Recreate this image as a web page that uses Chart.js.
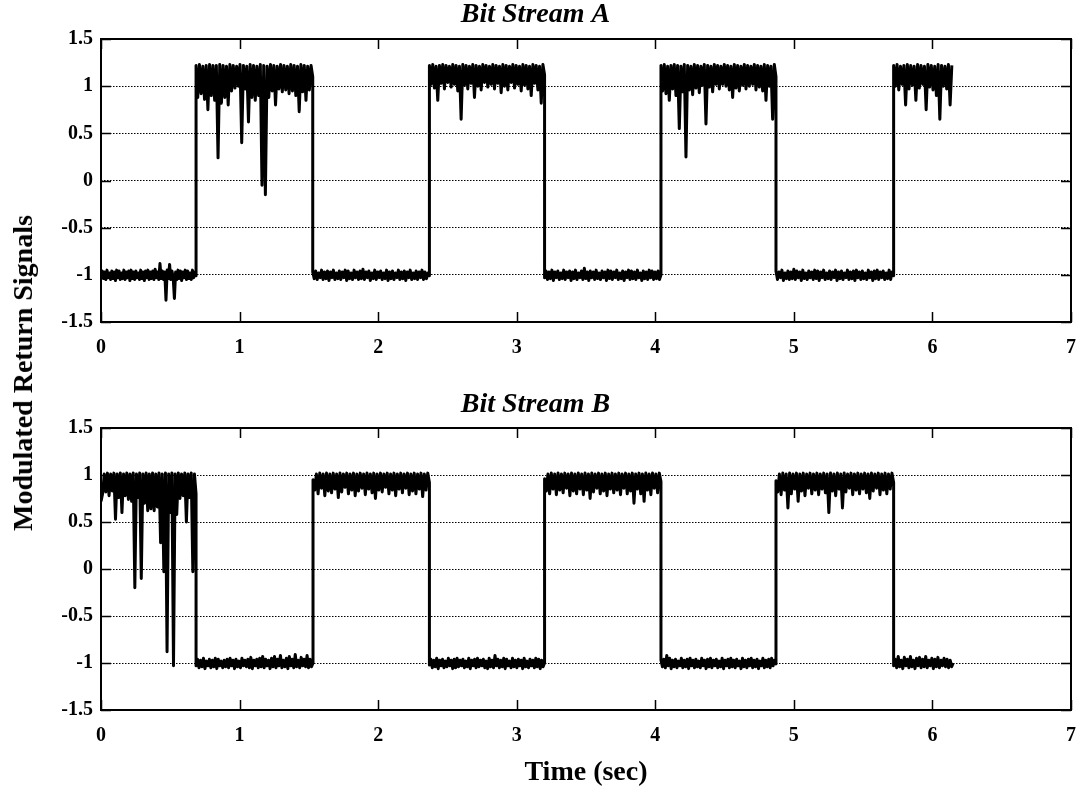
<!DOCTYPE html>
<html><head><meta charset="utf-8">
<script src="https://cdn.jsdelivr.net/npm/chart.js@4.4.1/dist/chart.umd.min.js"></script>
<style>
html,body{margin:0;padding:0;background:#fff;}
#wrap{position:relative;width:1080px;height:788px;overflow:hidden;background:#fff;}
canvas{position:absolute;left:0;}
#c1{top:0;}
#c2{top:390px;}
#ylab{position:absolute;left:23px;top:373px;transform:translate(-50%,-50%) rotate(-90deg);font:bold 28px 'Liberation Serif',serif;white-space:nowrap;color:#000;}
</style></head>
<body>
<div id="wrap">
<canvas id="c1" width="1080" height="390"></canvas>
<canvas id="c2" width="1080" height="398"></canvas>
<div id="ylab">Modulated Return Signals</div>
</div>
<script>
// ---------- axis ticks ----------
const xTicks = [0, 1, 2, 3, 4, 5, 6, 7];
const xTickLabels = ['0', '1', '2', '3', '4', '5', '6', '7'];
const yTicks = [-1.5, -1, -0.5, 0, 0.5, 1, 1.5];
const yTickLabels = ['-1.5', '-1', '-0.5', '0', '0.5', '1', '1.5'];

// ---------- Bit Stream A: segment boundary times (s) ----------
const edgesA = [0, 0.686, 1.528, 2.370, 3.201, 4.041, 4.871, 5.720, 6.140];
const lowA1 = [
-1.01,-0.96,-1.04,-0.97,-1.05,-0.95,-1.03,-0.98,-1.05,-0.96,
-1.04,-0.97,-1.06,-0.95,-1.03,-0.96,-1.05,-0.98,-1.04,-0.95,
-1.05,-0.97,-1.03,-0.96,-1.06,-0.95,-1.04,-0.97,-1.05,-0.96,
-1.03,-0.98,-1.05,-0.95,-1.04,-0.97,-1.06,-0.96,-1.03,-0.95,
-1.05,-0.97,-1.04,-0.96,-1.05,-0.94,-1.03,-0.97,-1.05,-0.88,
-1.04,-0.96,-1.05,-0.97,-1.27,-0.95,-1.04,-0.89,-1.05,-0.96,
-1.03,-1.25,-0.97,-1.05,-0.95,-1.04,-0.96,-1.06,-0.97,-1.03,
-0.95,-1.05,-0.96,-1.04,-0.98,-1.05,-0.95,-1.03,-0.97,-1.01];
const highA1 = [
1.22,0.88,1.23,0.92,1.21,0.86,1.22,0.75,1.23,0.90,
1.22,0.85,1.22,0.24,1.23,0.82,1.22,0.88,1.21,0.80,
1.23,0.95,1.22,0.98,1.21,1.00,1.23,0.40,1.22,0.97,
1.21,0.62,1.23,0.88,1.22,0.85,1.21,0.90,1.23,-0.05,
1.22,-0.15,1.21,0.88,1.23,0.95,1.22,0.80,1.21,0.97,
1.23,0.94,1.22,0.96,1.21,0.92,1.23,0.95,1.22,0.90,
1.21,0.73,1.23,0.94,1.22,0.85,1.21,0.96,1.22,1.10];
const lowA2 = [
-0.97,-1.04,-0.96,-1.05,-0.98,-1.03,-0.95,-1.05,-0.97,-1.04,
-0.96,-1.06,-0.97,-1.03,-0.95,-1.05,-0.98,-1.04,-0.96,-1.05,
-0.97,-1.03,-0.95,-1.06,-0.96,-1.04,-0.98,-1.05,-0.95,-1.03,
-0.97,-1.05,-0.96,-1.04,-0.94,-1.05,-0.97,-1.03,-0.96,-1.06,
-0.98,-1.04,-0.95,-1.05,-0.97,-1.03,-0.96,-1.05,-0.98,-1.04,
-0.95,-1.06,-0.97,-1.04,-0.96,-1.05,-0.98,-1.03,-0.95,-1.05,
-0.97,-1.04,-0.96,-1.06,-0.97,-1.03,-0.95,-1.05,-0.98,-1.04,
-0.96,-1.05,-0.97,-1.03,-0.95,-1.05,-0.97,-1.04,-0.98,-1.01];
const highA2 = [
1.22,1.02,1.23,0.98,1.21,0.85,1.22,1.03,1.23,0.97,
1.22,1.04,1.21,0.99,1.23,1.02,1.22,0.95,1.21,0.65,
1.23,1.01,1.22,0.97,1.21,1.03,1.23,0.88,1.22,1.00,
1.21,0.96,1.23,1.04,1.22,0.99,1.21,1.02,1.23,0.97,
1.22,1.03,1.21,0.93,1.23,1.00,1.22,0.96,1.21,1.04,
1.23,0.98,1.22,1.02,1.21,0.95,1.23,1.01,1.22,0.97,
1.21,0.90,1.23,1.03,1.22,0.96,1.21,0.82,1.23,1.12];
const lowA3 = [
-1.03,-0.96,-1.05,-0.97,-1.04,-0.95,-1.06,-0.97,-1.03,-0.96,
-1.05,-0.98,-1.04,-0.95,-1.05,-0.97,-1.03,-0.96,-1.06,-0.97,
-1.04,-0.95,-1.05,-0.98,-1.03,-0.96,-1.05,-0.93,-1.04,-0.97,
-1.06,-0.96,-1.03,-0.97,-1.05,-0.95,-1.04,-0.98,-1.05,-0.96,
-1.03,-0.97,-1.06,-0.95,-1.04,-0.96,-1.05,-0.97,-1.03,-0.95,
-1.05,-0.98,-1.04,-0.96,-1.06,-0.97,-1.03,-0.95,-1.05,-0.96,
-1.04,-0.97,-1.05,-0.95,-1.03,-0.98,-1.06,-0.96,-1.04,-0.97,
-1.05,-0.95,-1.03,-0.96,-1.05,-0.97,-1.04,-0.96,-1.05,-1.00];
const highA3 = [
1.22,0.95,1.23,0.92,1.21,0.85,1.22,0.97,1.23,0.90,
1.22,0.55,1.21,0.94,1.23,0.25,1.22,0.96,1.21,0.91,
1.23,0.98,1.22,0.93,1.21,1.01,1.23,0.60,1.22,0.99,
1.21,0.94,1.23,1.02,1.22,0.97,1.21,1.02,1.23,1.00,
1.22,0.96,1.21,0.88,1.23,0.98,1.22,0.95,1.21,1.01,
1.23,0.97,1.22,1.00,1.21,1.02,1.23,0.96,1.22,0.99,
1.21,0.95,1.23,0.85,1.22,1.00,1.21,0.65,1.23,1.10];
const lowA4 = [
-0.96,-1.05,-0.97,-1.03,-0.95,-1.06,-0.98,-1.04,-0.96,-1.05,
-0.97,-1.04,-0.94,-1.05,-0.96,-1.03,-0.97,-1.06,-0.95,-1.04,
-0.98,-1.05,-0.96,-1.03,-0.97,-1.05,-0.95,-1.04,-0.96,-1.06,
-0.97,-1.03,-0.95,-1.05,-0.98,-1.04,-0.96,-1.05,-0.97,-1.03,
-0.95,-1.06,-0.97,-1.04,-0.96,-1.05,-0.98,-1.03,-0.95,-1.05,
-0.97,-1.04,-0.96,-1.06,-0.95,-1.03,-0.97,-1.05,-0.96,-1.04,
-0.98,-1.05,-0.95,-1.03,-0.97,-1.06,-0.96,-1.04,-0.95,-1.05,
-0.97,-1.03,-0.96,-1.05,-0.98,-1.04,-0.95,-1.05,-0.97,-1.01];
const highA4 = [
1.22,1.00,1.23,0.96,1.21,1.02,1.22,0.80,1.23,0.97,
1.22,1.01,1.21,0.85,1.23,0.98,1.22,1.02,1.21,0.75,
1.23,0.99,1.22,0.96,1.21,0.90,1.23,0.65,1.22,1.00,
1.21,0.97,1.23,0.80,1.22];

// ---------- Bit Stream B: segment boundary times (s) ----------
const edgesB = [0, 0.686, 1.530, 2.370, 3.201, 4.041, 4.871, 5.720, 6.150];
const highB1 = [
0.72,0.80,1.01,0.82,1.02,0.78,1.01,0.83,1.02,0.53,
1.01,0.76,1.02,0.60,1.01,0.78,1.02,0.74,1.01,0.72,
1.02,-0.20,1.01,0.76,1.02,-0.10,1.01,0.70,1.02,0.62,
1.01,0.64,1.02,0.62,1.01,0.66,1.02,0.28,1.01,-0.03,
1.02,-0.88,1.01,0.60,1.02,-1.03,1.01,0.58,1.02,0.75,
1.01,0.78,1.02,0.50,1.01,0.76,1.02,-0.03,1.01,0.80];
const lowB1 = [
-1.03,-0.96,-1.05,-0.97,-1.04,-0.95,-1.06,-0.98,-1.03,-0.96,
-1.05,-0.97,-1.04,-0.95,-1.06,-0.96,-1.03,-0.98,-1.05,-0.97,
-1.04,-0.96,-1.05,-0.95,-1.03,-0.97,-1.06,-0.96,-1.04,-0.98,
-1.05,-0.95,-1.03,-0.97,-1.04,-0.96,-1.05,-0.94,-1.06,-0.97,
-1.03,-0.96,-1.05,-0.95,-1.04,-0.93,-1.05,-0.96,-1.03,-0.97,
-1.06,-0.95,-1.04,-0.93,-1.05,-0.96,-1.03,-0.92,-1.05,-0.97,
-1.04,-0.95,-1.06,-0.93,-1.03,-0.96,-1.05,-0.91,-1.04,-0.97,
-1.05,-0.94,-1.03,-0.96,-1.04,-0.92,-1.05,-0.96,-1.04,-1.00];
const highB2 = [
0.95,0.84,1.01,0.80,1.02,0.86,1.01,0.78,1.02,0.83,
1.01,0.81,1.02,0.85,1.01,0.76,1.02,0.82,1.01,0.87,
1.02,0.80,1.01,0.84,1.02,0.78,1.01,0.83,1.02,0.86,
1.01,0.79,1.02,0.85,1.01,0.81,1.02,0.75,1.01,0.84,
1.02,0.82,1.01,0.87,1.02,0.80,1.01,0.84,1.02,0.78,
1.01,0.85,1.02,0.81,1.01,0.86,1.02,0.79,1.01,0.83,
1.02,0.80,1.01,0.85,1.02,0.77,1.01,0.84,1.02,0.92];
const lowB2 = [
-1.02,-0.96,-1.05,-0.97,-1.04,-0.95,-1.06,-0.97,-1.03,-0.96,
-1.05,-0.98,-1.04,-0.95,-1.03,-0.97,-1.06,-0.96,-1.05,-0.95,
-1.04,-0.97,-1.03,-0.96,-1.05,-0.98,-1.04,-0.95,-1.06,-0.97,
-1.03,-0.96,-1.05,-0.95,-1.04,-0.97,-1.03,-0.96,-1.05,-0.98,
-1.06,-0.95,-1.04,-0.97,-1.05,-0.92,-1.03,-0.96,-1.05,-0.97,
-1.04,-0.95,-1.06,-0.96,-1.03,-0.98,-1.05,-0.95,-1.04,-0.97,
-1.05,-0.96,-1.03,-0.97,-1.06,-0.95,-1.04,-0.98,-1.05,-0.96,
-1.03,-0.97,-1.05,-0.95,-1.04,-0.96,-1.06,-0.97,-1.04,-1.00];
const highB3 = [
0.96,0.83,1.01,0.80,1.02,0.85,1.01,0.79,1.02,0.84,
1.01,0.81,1.02,0.86,1.01,0.78,1.02,0.83,1.01,0.80,
1.02,0.85,1.01,0.79,1.02,0.84,1.01,0.75,1.02,0.82,
1.01,0.86,1.02,0.80,1.01,0.83,1.02,0.78,1.01,0.85,
1.02,0.81,1.01,0.84,1.02,0.79,1.01,0.86,1.02,0.80,
1.01,0.83,1.02,0.70,1.01,0.85,1.02,0.80,1.01,0.72,
1.02,0.84,1.01,0.79,1.02,0.86,1.01,0.81,1.02,0.93];
const lowB3 = [
-0.97,-1.04,-0.96,-1.05,-0.92,-1.03,-0.95,-1.06,-0.97,-1.04,
-0.96,-1.05,-0.98,-1.03,-0.95,-1.05,-0.97,-1.04,-0.96,-1.06,
-0.95,-1.03,-0.97,-1.05,-0.96,-1.04,-0.98,-1.05,-0.95,-1.03,
-0.97,-1.06,-0.96,-1.04,-0.95,-1.05,-0.97,-1.03,-0.96,-1.05,
-0.98,-1.04,-0.95,-1.06,-0.97,-1.03,-0.96,-1.05,-0.95,-1.04,
-0.97,-1.05,-0.96,-1.03,-0.98,-1.06,-0.95,-1.04,-0.97,-1.05,
-0.96,-1.03,-0.95,-1.05,-0.97,-1.04,-0.96,-1.06,-0.98,-1.03,
-0.95,-1.05,-0.97,-1.04,-0.96,-1.05,-0.95,-1.03,-0.97,-1.01];
const highB4 = [
0.94,0.82,1.01,0.79,1.02,0.84,1.01,0.65,1.02,0.80,
1.01,0.85,1.02,0.72,1.01,0.83,1.02,0.78,1.01,0.86,
1.02,0.80,1.01,0.84,1.02,0.79,1.01,0.85,1.02,0.81,
1.01,0.60,1.02,0.83,1.01,0.78,1.02,0.85,1.01,0.65,
1.02,0.82,1.01,0.86,1.02,0.79,1.01,0.84,1.02,0.80,
1.01,0.85,1.02,0.81,1.01,0.75,1.02,0.83,1.01,0.86,
1.02,0.79,1.01,0.84,1.02,0.80,1.01,0.85,1.02,0.92];
const lowB4 = [
-1.03,-0.96,-1.05,-0.93,-1.04,-0.97,-1.06,-0.94,-1.03,-0.96,
-1.05,-0.93,-1.04,-0.97,-1.06,-0.95,-1.03,-0.94,-1.05,-0.96,
-1.04,-0.93,-1.05,-0.97,-1.03,-0.95,-1.06,-0.96,-1.04,-0.94,
-1.05,-0.97,-1.03,-0.95,-1.04,-0.96,-1.05,-0.97,-1.04,-1.00];

const segmentsA = [lowA1, highA1, lowA2, highA2, lowA3, highA3, lowA4, highA4];
const segmentsB = [highB1, lowB1, highB2, lowB2, highB3, lowB3, highB4, lowB4];

// samples of each segment are spread evenly between its boundary times
function buildPoints(edges, segments) {
  const pts = [];
  segments.forEach((vals, i) => {
    const t0 = edges[i], t1 = edges[i + 1], n = vals.length;
    vals.forEach((v, k) => pts.push({ x: t0 + (t1 - t0) * k / (n - 1), y: v }));
  });
  return pts;
}

const FONT = "'Liberation Serif', serif";

const framePlugin = {
  id: 'frame',
  afterDraw(chart) {
    const { ctx, chartArea: a, scales: { x, y } } = chart;
    ctx.save();
    ctx.strokeStyle = '#000';
    ctx.lineWidth = 1.5;
    ctx.beginPath();
    xTicks.forEach(v => {
      const px = Math.round(x.getPixelForValue(v)) + 0.5;
      ctx.moveTo(px, a.bottom); ctx.lineTo(px, a.bottom - 10);
      ctx.moveTo(px, a.top); ctx.lineTo(px, a.top + 10);
    });
    yTicks.forEach(v => {
      const py = Math.round(y.getPixelForValue(v)) + 0.5;
      ctx.moveTo(a.left, py); ctx.lineTo(a.left + 10, py);
      ctx.moveTo(a.right, py); ctx.lineTo(a.right - 10, py);
    });
    ctx.stroke();
    ctx.lineWidth = 2;
    ctx.strokeRect(a.left, a.top, a.right - a.left, a.bottom - a.top);
    ctx.restore();
  }
};

function makeChart(id, titleText, points, titleBottomPad, xAxisHeight, xTitle) {
  return new Chart(document.getElementById(id), {
    type: 'line',
    data: {
      datasets: [{
        data: points,
        borderColor: '#000',
        borderWidth: 3,
        borderJoinStyle: 'round',
        pointRadius: 0,
        tension: 0,
        fill: false
      }]
    },
    options: {
      responsive: false,
      animation: false,
      devicePixelRatio: 1,
      layout: { padding: { left: 0, right: 9, top: 0, bottom: 0 } },
      plugins: {
        legend: { display: false },
        tooltip: { enabled: false },
        title: {
          display: true,
          text: titleText,
          color: '#000',
          font: { family: FONT, size: 28, weight: 'bold', style: 'italic' },
          padding: { top: -2, bottom: titleBottomPad }
        }
      },
      scales: {
        x: {
          type: 'linear',
          min: 0, max: 7,
          afterBuildTicks: s => { s.ticks = xTicks.map(v => ({ value: v })); },
          afterFit: s => { s.height = xAxisHeight; s.paddingLeft = 0; s.paddingRight = 0; },
          ticks: {
            callback: (v, i) => xTickLabels[i],
            color: '#000',
            font: { family: FONT, size: 20, weight: 'bold' },
            padding: 6,
            maxRotation: 0,
            autoSkip: false
          },
          grid: { display: false },
          border: { display: false },
          title: xTitle ? {
            display: true,
            text: xTitle,
            color: '#000',
            font: { family: FONT, size: 28, weight: 'bold' },
            padding: { top: 0, bottom: -2 }
          } : { display: false }
        },
        y: {
          type: 'linear',
          min: -1.5, max: 1.5,
          afterBuildTicks: s => { s.ticks = yTicks.map(v => ({ value: v })); },
          afterFit: s => { s.width = 101; s.paddingTop = 0; s.paddingBottom = 0; },
          ticks: {
            callback: (v, i) => yTickLabels[i],
            color: '#000',
            font: { family: FONT, size: 20, weight: 'bold' },
            padding: 8,
            autoSkip: false
          },
          grid: { display: true, color: '#000', lineWidth: 1, drawTicks: false },
          border: { display: false, dash: [1.5, 1.5] }
        }
      }
    },
    plugins: [framePlugin]
  });
}

makeChart('c1', 'Bit Stream A', buildPoints(edgesA, segmentsA), 7.4, 68, null);
makeChart('c2', 'Bit Stream B', buildPoints(edgesB, segmentsB), 6.4, 78, 'Time (sec)');
</script>
</body></html>
